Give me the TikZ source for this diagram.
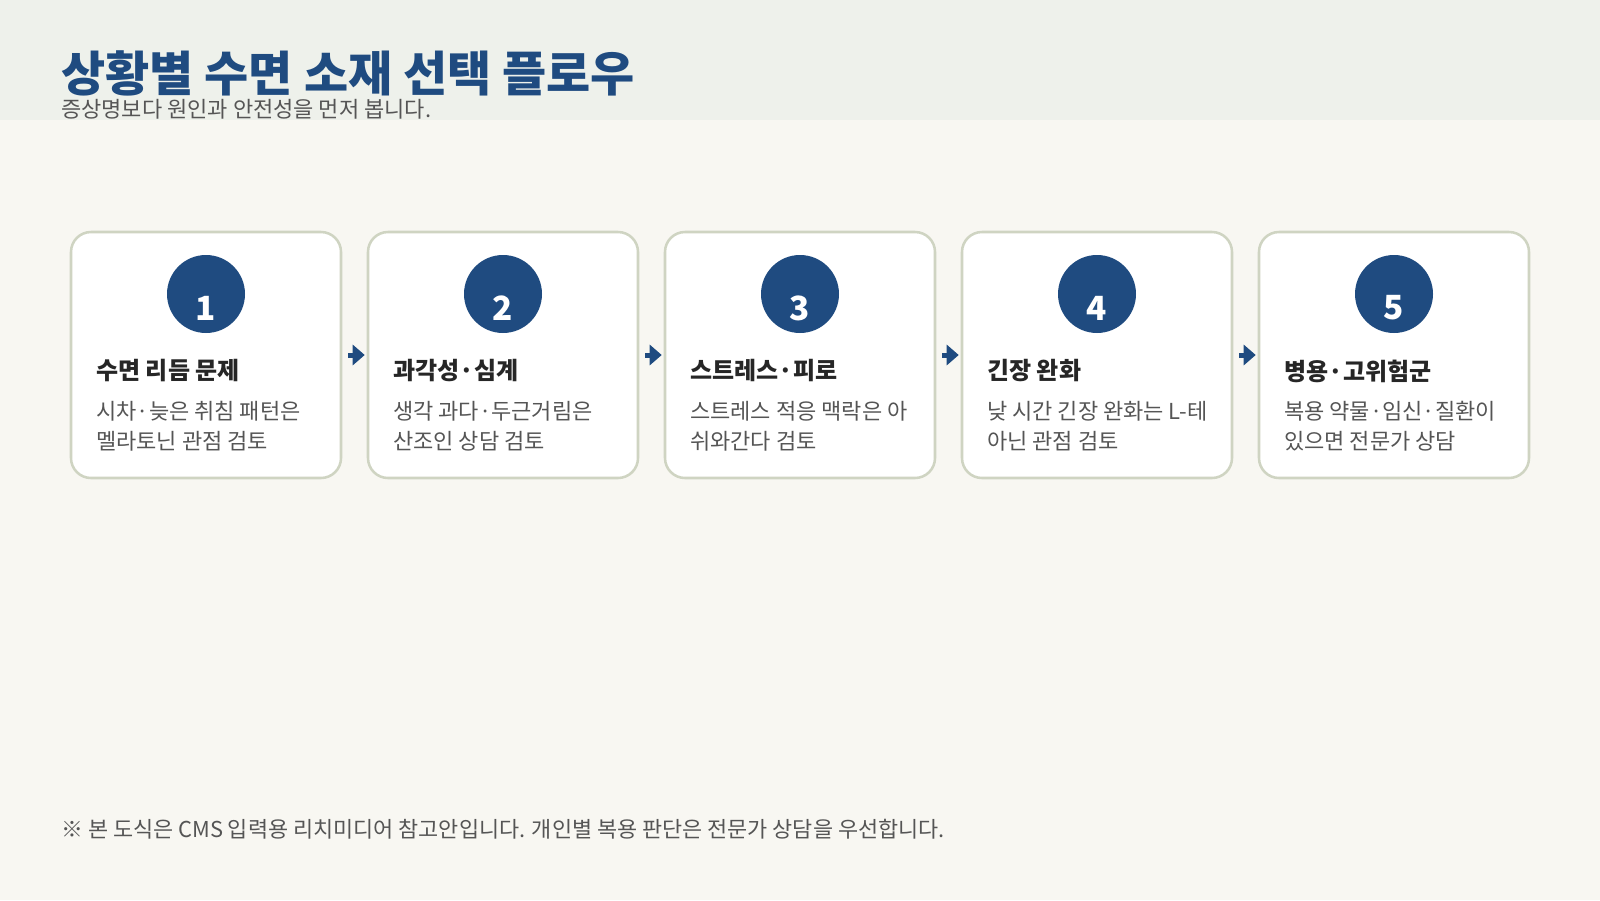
\documentclass[tikz,border=0pt]{standalone}
\usepackage{fontspec}
\setmainfont{Noto Sans CJK KR}
\usetikzlibrary{positioning, arrows.meta}

\definecolor{bandbg}{HTML}{EEF1EB}
\definecolor{pagebg}{HTML}{F8F7F2}
\definecolor{navy}{HTML}{1F4B80}
\definecolor{cardline}{HTML}{CFD4C2}
\definecolor{inkdark}{HTML}{262626}
\definecolor{inkgray}{HTML}{555555}

\tikzset{
  card/.style={draw=cardline, line width=1.9pt, fill=white, rounded corners=15pt,
    minimum width=202.5pt, minimum height=184.5pt, inner sep=0pt},
  badge/.style={circle, fill=navy, minimum size=58.5pt, inner sep=0pt},
  badgenum/.style={text=white, font=\fontsize{25}{25}\selectfont\bfseries, inner sep=0pt},
  cardhead/.style={anchor=west, inner sep=0pt, text=inkdark, font=\fontsize{18}{18}\selectfont\bfseries},
  carddesc/.style={anchor=west, inner sep=0pt, align=left, text=inkgray, font=\fontsize{16.5}{22.5}\selectfont},
  flowarrow/.style={draw=navy, line width=3.75pt, -{Triangle[length=9pt, width=15pt]},
    shorten <=4.5pt, shorten >=1.5pt}
}

\begin{document}
\begin{tikzpicture}[x=0.75pt, y=-0.75pt]
  \useasboundingbox (0,0) rectangle (1600,900);
  \fill [pagebg] (0,0) rectangle (1600,900);
  \fill [bandbg] (0,0) rectangle (1600,120);

  \node (title) at (61,73) [anchor=west, inner sep=0pt, text=navy,
    font=\fontsize{36}{36}\selectfont\bfseries] {상황별 수면 소재 선택 플로우};
  \node (subtitle) at (61,109) [anchor=west, inner sep=0pt, text=inkgray,
    font=\fontsize{16.5}{16.5}\selectfont] {증상명보다 원인과 안전성을 먼저 봅니다.};

  \node [card] (box1) at (206,355) {};
  \node [card] (box2) at (503,355) {};
  \node [card] (box3) at (800,355) {};
  \node [card] (box4) at (1097,355) {};
  \node [card] (box5) at (1394,355) {};

  \node [badge] (dot1) at (206,294) {};
  \node [badge] (dot2) at (503,294) {};
  \node [badge] (dot3) at (800,294) {};
  \node [badge] (dot4) at (1097,294) {};
  \node [badge] (dot5) at (1394,294) {};
  \node [badgenum] (num1) at (206,308) {1};
  \node [badgenum] (num2) at (503,308) {2};
  \node [badgenum] (num3) at (800,308) {3};
  \node [badgenum] (num4) at (1097,308) {4};
  \node [badgenum] (num5) at (1394,308) {5};

  \node [cardhead] (head1) at (96,371) {수면 리듬 문제};
  \node [cardhead] (head2) at (393,371) {과각성·심계};
  \node [cardhead] (head3) at (690,371) {스트레스·피로};
  \node [cardhead] (head4) at (987,371) {긴장 완화};
  \node [cardhead] (head5) at (1284,371) {병용·고위험군};

  \node [carddesc] (desc1) at (96,426) {시차·늦은 취침 패턴은\\멜라토닌 관점 검토};
  \node [carddesc] (desc2) at (393,426) {생각 과다·두근거림은\\산조인 상담 검토};
  \node [carddesc] (desc3) at (690,426) {스트레스 적응 맥락은 아\\쉬와간다 검토};
  \node [carddesc] (desc4) at (987,426) {낮 시간 긴장 완화는 L-테\\아닌 관점 검토};
  \node [carddesc] (desc5) at (1284,426) {복용 약물·임신·질환이\\있으면 전문가 상담};

  \draw [flowarrow] (box1) -- (box2);
  \draw [flowarrow] (box2) -- (box3);
  \draw [flowarrow] (box3) -- (box4);
  \draw [flowarrow] (box4) -- (box5);

  \node (note) at (61,829) [anchor=west, inner sep=0pt, text=inkgray,
    font=\fontsize{16.4}{16.4}\selectfont]
    {※ 본 도식은 CMS 입력용 리치미디어 참고안입니다. 개인별 복용 판단은 전문가 상담을 우선합니다.};
\end{tikzpicture}
\end{document}
